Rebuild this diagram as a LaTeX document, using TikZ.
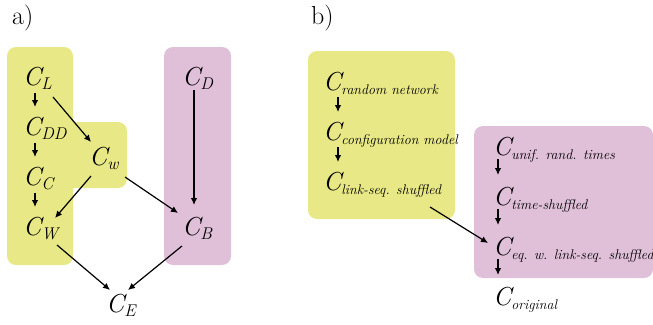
\documentclass[tikz,border=0pt]{standalone}
\usetikzlibrary{arrows.meta}
\definecolor{boxyellow}{RGB}{232,232,134}
\definecolor{boxpink}{RGB}{224,191,217}
\newcommand{\csubA}[1]{C\raisebox{-4pt}{\fontsize{17}{17}\selectfont #1}}
\newcommand{\csubB}[1]{C\raisebox{-4pt}{\fontsize{14}{14}\selectfont #1}}

\begin{document}
\begin{tikzpicture}
  [x=1pt,y=-1pt,
   var/.style={font=\fontsize{26}{26}\selectfont\itshape, inner sep=1pt, anchor=base west},
   panel/.style={font=\fontsize{26}{26}\selectfont, inner sep=0pt, anchor=base west},
   arr/.style={-{Latex[length=7pt,width=6.5pt]}, line width=1.2pt},
   grp/.style={rounded corners=9pt}
  ]
  \useasboundingbox (0,0) rectangle (653,324);

  % gruppi colorati
  \fill[boxyellow, grp] (7,47) rectangle (73,265);
  \fill[boxyellow, grp] (7,122) rectangle (127,188);
  \fill[boxpink, grp] (164,47) rectangle (231,265);
  \fill[boxyellow, grp] (308,51) rectangle (455,219);
  \fill[boxpink, grp] (474,126) rectangle (653,278);

  % pannello a)
  \node[panel] (labela) at (12,24) {a)};
  \node[var] (CL)  at (22,85)   {\csubA{L}};
  \node[var] (CDD) at (22,135)  {\csubA{DD}};
  \node[var] (CC)  at (22,185)  {\csubA{C}};
  \node[var] (CW)  at (22,235)  {\csubA{W}};
  \node[var] (Cw)  at (88,165)  {\csubA{w}};
  \node[var] (CD)  at (181,85)  {\csubA{D}};
  \node[var] (CB)  at (181,235) {\csubA{B}};
  \node[var] (CE)  at (105,312) {\csubA{E}};

  \draw[arr] ([xshift=13pt,yshift=-8pt]CL.base west) -- ([xshift=13pt,yshift=28pt]CDD.base west);
  \draw[arr] ([xshift=13pt,yshift=-8pt]CDD.base west) -- ([xshift=13pt,yshift=28pt]CC.base west);
  \draw[arr] ([xshift=13pt,yshift=-8pt]CC.base west) -- ([xshift=13pt,yshift=28pt]CW.base west);
  \draw[arr] ([xshift=31pt,yshift=-12pt]CL.base west) -- ([xshift=3pt,yshift=23pt]Cw.base west);
  \draw[arr] ([xshift=3pt,yshift=-11pt]Cw.base west) -- ([xshift=33pt,yshift=17pt]CW.base west);
  \draw[arr] ([xshift=37pt,yshift=-12pt]Cw.base west) -- ([xshift=-3pt,yshift=22pt]CB.base west);
  \draw[arr] ([xshift=13pt,yshift=-5pt]CD.base west) -- ([xshift=13pt,yshift=30pt]CB.base west);
  \draw[arr] ([xshift=35pt,yshift=-10pt]CW.base west) -- ([xshift=5pt,yshift=22pt]CE.base west);
  \draw[arr] ([xshift=1pt,yshift=-11pt]CB.base west) -- ([xshift=23pt,yshift=22pt]CE.base west);

  % pannello b)
  \node[panel] (labelb) at (311,24) {b)};
  \node[var] (Crn) at (322,90)  {\csubB{random network}};
  \node[var] (Ccm) at (322,140) {\csubB{configuration model}};
  \node[var] (Cls) at (322,190) {\csubB{link-seq. shuffled}};
  \node[var] (Cur) at (492,155) {\csubB{unif. rand. times}};
  \node[var] (Cts) at (492,205) {\csubB{time-shuffled}};
  \node[var] (Ceq) at (492,255) {\csubB{eq. w. link-seq. shuffled}};
  \node[var] (Cor) at (492,305) {\csubB{original}};

  \draw[arr] ([xshift=16pt,yshift=-7pt]Crn.base west) -- ([xshift=16pt,yshift=28pt]Ccm.base west);
  \draw[arr] ([xshift=16pt,yshift=-7pt]Ccm.base west) -- ([xshift=16pt,yshift=28pt]Cls.base west);
  \draw[arr] ([xshift=6pt,yshift=-4pt]Cur.base west) -- ([xshift=6pt,yshift=30pt]Cts.base west);
  \draw[arr] ([xshift=6pt,yshift=-4pt]Cts.base west) -- ([xshift=6pt,yshift=30pt]Ceq.base west);
  \draw[arr] ([xshift=6pt,yshift=-4pt]Ceq.base west) -- ([xshift=6pt,yshift=30pt]Cor.base west);
  \draw[arr] ([xshift=108pt,yshift=-17pt]Cls.base west) -- ([xshift=-4pt,yshift=12pt]Ceq.base west);
\end{tikzpicture}
\end{document}
